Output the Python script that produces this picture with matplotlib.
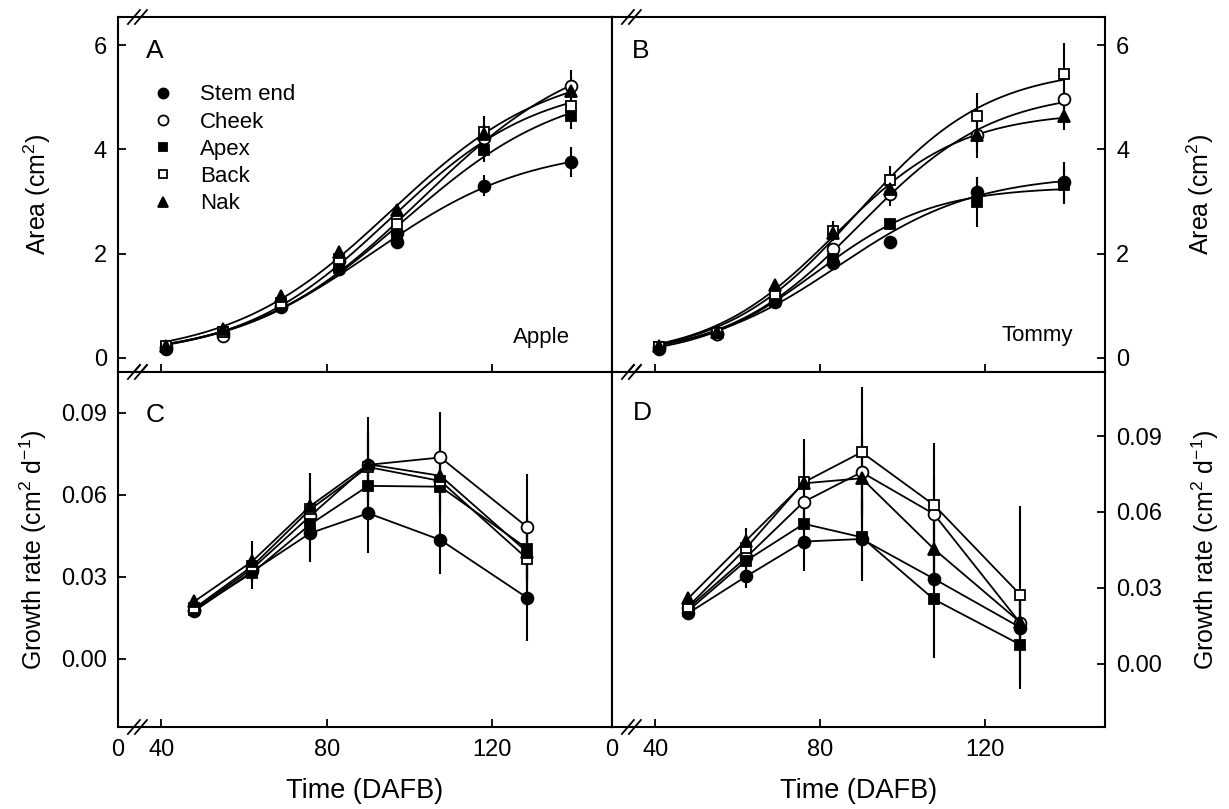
import numpy as np
import matplotlib
matplotlib.use("Agg")
import matplotlib.pyplot as plt
from matplotlib.lines import Line2D

plt.rcParams['font.family'] = ['Liberation Sans', 'DejaVu Sans']
plt.rcParams['mathtext.fontset'] = 'custom'
plt.rcParams['mathtext.rm'] = 'Liberation Sans'
plt.rcParams['mathtext.it'] = 'Liberation Sans:italic'
plt.rcParams['mathtext.default'] = 'regular'

# sampling days (days after full bloom)
days_area = np.array([41, 55, 69, 83, 97, 118, 139])
days_rate = np.array([48, 62, 76, 90, 107.5, 128.5])

regions = ["Stem end", "Cheek", "Apex", "Back", "Nak"]

# fruit area (cm2), Apple
apple_area = {
    "Stem end": [0.18, 0.48, 0.98, 1.70, 2.22, 3.30, 3.76],
    "Cheek":    [0.20, 0.42, 1.00, 1.85, 2.40, 4.22, 5.21],
    "Apex":     [0.20, 0.50, 1.00, 1.72, 2.35, 3.98, 4.65],
    "Back":     [0.22, 0.50, 1.05, 1.90, 2.57, 4.33, 4.83],
    "Nak":      [0.22, 0.55, 1.19, 2.03, 2.83, 4.30, 5.12],
}
apple_area_se = {
    "Stem end": [0.02, 0.03, 0.04, 0.06, 0.13, 0.20, 0.28],
    "Cheek":    [0.02, 0.03, 0.04, 0.06, 0.10, 0.20, 0.32],
    "Apex":     [0.02, 0.03, 0.04, 0.06, 0.10, 0.22, 0.25],
    "Back":     [0.02, 0.03, 0.04, 0.06, 0.10, 0.32, 0.20],
    "Nak":      [0.02, 0.03, 0.04, 0.10, 0.10, 0.20, 0.20],
}

# fruit area (cm2), Tommy
tommy_area = {
    "Stem end": [0.18, 0.45, 1.08, 1.83, 2.22, 3.18, 3.38],
    "Cheek":    [0.20, 0.45, 1.15, 2.09, 3.15, 4.27, 4.97],
    "Apex":     [0.20, 0.47, 1.10, 1.90, 2.57, 2.99, 3.31],
    "Back":     [0.20, 0.48, 1.22, 2.44, 3.42, 4.65, 5.44],
    "Nak":      [0.22, 0.50, 1.40, 2.40, 3.25, 4.27, 4.65],
}
tommy_area_se = {
    "Stem end": [0.02, 0.03, 0.04, 0.06, 0.08, 0.29, 0.38],
    "Cheek":    [0.02, 0.03, 0.04, 0.06, 0.23, 0.43, 0.20],
    "Apex":     [0.02, 0.03, 0.04, 0.06, 0.12, 0.48, 0.35],
    "Back":     [0.02, 0.03, 0.04, 0.19, 0.27, 0.43, 0.60],
    "Nak":      [0.02, 0.03, 0.05, 0.10, 0.15, 0.20, 0.28],
}

# growth rate (cm2 d-1), Apple
apple_rate = {
    "Stem end": [0.0175, 0.0320, 0.0460, 0.0533, 0.0435, 0.0223],
    "Cheek":    [0.0180, 0.0330, 0.0523, 0.0710, 0.0737, 0.0482],
    "Apex":     [0.0180, 0.0315, 0.0492, 0.0633, 0.0630, 0.0403],
    "Back":     [0.0185, 0.0339, 0.0547, 0.0702, 0.0651, 0.0366],
    "Nak":      [0.0210, 0.0357, 0.0559, 0.0712, 0.0670, 0.0390],
}
apple_rate_se = {
    "Stem end": [0.001, 0.004, 0.0106, 0.0145, 0.0123, 0.0159],
    "Cheek":    [0.001, 0.004, 0.008, 0.012, 0.0168, 0.0194],
    "Apex":     [0.001, 0.006, 0.008, 0.010, 0.012, 0.012],
    "Back":     [0.001, 0.004, 0.008, 0.012, 0.012, 0.012],
    "Nak":      [0.001, 0.0073, 0.012, 0.0174, 0.012, 0.012],
}

# growth rate (cm2 d-1), Tommy
tommy_rate = {
    "Stem end": [0.0200, 0.0345, 0.0483, 0.0493, 0.0336, 0.0143],
    "Cheek":    [0.0220, 0.0420, 0.0640, 0.0757, 0.0592, 0.0160],
    "Apex":     [0.0210, 0.0407, 0.0553, 0.0500, 0.0255, 0.0075],
    "Back":     [0.0226, 0.0457, 0.0717, 0.0836, 0.0628, 0.0272],
    "Nak":      [0.0259, 0.0487, 0.0713, 0.0733, 0.0454, 0.0163],
}
tommy_rate_se = {
    "Stem end": [0.001, 0.0046, 0.0116, 0.0167, 0.012, 0.010],
    "Cheek":    [0.001, 0.004, 0.010, 0.015, 0.015, 0.010],
    "Apex":     [0.001, 0.004, 0.010, 0.015, 0.0233, 0.0175],
    "Back":     [0.001, 0.004, 0.0170, 0.0259, 0.0243, 0.0350],
    "Nak":      [0.001, 0.0050, 0.010, 0.015, 0.015, 0.010],
}

styles = {
    "Stem end": dict(marker='o', mfc='black', ms=8.5),
    "Cheek":    dict(marker='o', mfc='white', ms=8.5),
    "Apex":     dict(marker='s', mfc='black', ms=7.5),
    "Back":     dict(marker='s', mfc='white', ms=7.5),
    "Nak":      dict(marker='^', mfc='black', ms=8.5),
}

XMIN, XMAX = 29.5, 149.0


def logistic_fit(x, y):
    # 3-parameter sigmoid a/(1+exp(-(x-x0)/b)), least squares over a grid
    x = np.asarray(x, float)
    y = np.asarray(y, float)
    x0s = np.arange(50, 170, 0.25)
    bs = np.arange(5, 60, 0.2)
    X0, B = np.meshgrid(x0s, bs, indexing='ij')
    g = 1.0 / (1.0 + np.exp(-(x[None, None, :] - X0[..., None]) / B[..., None]))
    a = (g * y).sum(-1) / (g * g).sum(-1)
    sse = ((a[..., None] * g - y) ** 2).sum(-1)
    i = np.unravel_index(np.argmin(sse), sse.shape)
    return a[i], X0[i], B[i]


def axis_break(ax, xdata, width_px):
    # "//" marks on the top and bottom spines
    fx = (xdata - XMIN) / (XMAX - XMIN)
    w_px, h_px = width_px, ax.bbox.height
    for yy in (0.0, 1.0):
        for off in (-3.5, 3.5):
            x0 = fx + (off - 6) / w_px
            x1 = fx + (off + 6) / w_px
            ax.plot([x0, x1], [yy - 7 / h_px, yy + 7 / h_px], color='black',
                    lw=1.3, transform=ax.transAxes, clip_on=False, zorder=10)


def style_axes(ax, right=False, bottom_labels=False):
    for s in ax.spines.values():
        s.set_linewidth(1.5)
    ax.set_xlim(XMIN, XMAX)
    ax.set_xticks([XMIN, 40, 80, 120])
    if bottom_labels:
        ax.set_xticklabels(['0', '40', '80', '120'])
    else:
        ax.set_xticklabels([])
    ax.tick_params(axis='x', direction='in', length=6, width=1.3, top=False,
                   bottom=True, labelsize=17, pad=9)
    ax.tick_params(axis='y', direction='in', length=6, width=1.3, labelsize=17, pad=8)
    if right:
        ax.yaxis.tick_right()
        ax.yaxis.set_label_position('right')
        ax.tick_params(axis='y', left=False, right=True, direction='in')


fig = plt.figure(figsize=(12.29, 8.09), dpi=100)
W, H = 1229, 809
axA = fig.add_axes([118 / W, 1 - 372 / H, 494 / W, 355 / H])
axB = fig.add_axes([612 / W, 1 - 372 / H, 493 / W, 355 / H])
axC = fig.add_axes([118 / W, 1 - 727 / H, 494 / W, 355 / H])
axD = fig.add_axes([612 / W, 1 - 727 / H, 493 / W, 355 / H])

xfit = np.linspace(days_area[0], days_area[-1], 200)

for ax, area, se in ((axA, apple_area, apple_area_se), (axB, tommy_area, tommy_area_se)):
    for r in regions:
        a, x0, b = logistic_fit(days_area, area[r])
        ax.plot(xfit, a / (1 + np.exp(-(xfit - x0) / b)), color='black', lw=1.3, zorder=2)
    for r in regions:
        ax.errorbar(days_area, area[r], yerr=se[r], fmt='none', ecolor='black',
                    elinewidth=1.5, capsize=0, zorder=3)
    for r in regions:
        st = styles[r]
        ax.plot(days_area, area[r], ls='none', marker=st['marker'], mfc=st['mfc'],
                mec='black', mew=1.3, ms=st['ms'], zorder=4)
    ax.set_ylim(-0.27, 6.54)
    ax.set_yticks([0, 2, 4, 6])

for ax, rate, se in ((axC, apple_rate, apple_rate_se), (axD, tommy_rate, tommy_rate_se)):
    for r in regions:
        ax.errorbar(days_rate, rate[r], yerr=se[r], fmt='none', ecolor='black',
                    elinewidth=1.5, capsize=0, zorder=3)
    for r in regions:
        st = styles[r]
        ax.plot(days_rate, rate[r], color='black', lw=1.3, marker=st['marker'],
                mfc=st['mfc'], mec='black', mew=1.3, ms=st['ms'], zorder=4)
    ax.set_yticks([0, 0.03, 0.06, 0.09])
    ax.set_yticklabels(['0.00', '0.03', '0.06', '0.09'])

axC.set_ylim(-0.025, 0.105)
axD.set_ylim(-0.025, 0.1153)

style_axes(axA)
style_axes(axB, right=True)
style_axes(axC, bottom_labels=True)
style_axes(axD, right=True, bottom_labels=True)

for ax in (axA, axB, axC, axD):
    axis_break(ax, 34.2, ax.bbox.width)

axA.set_ylabel('Area (cm$^2$)', fontsize=18)
axB.set_ylabel('Area (cm$^2$)', fontsize=18, rotation=90)
axC.set_ylabel('Growth rate (cm$^2$ d$^{-1}$)', fontsize=18)
axD.set_ylabel('Growth rate (cm$^2$ d$^{-1}$)', fontsize=18, rotation=90)
axA.yaxis.set_label_coords(-0.132, 0.5)
axC.yaxis.set_label_coords(-0.14, 0.5)
axB.yaxis.set_label_coords(1.162, 0.5)
axD.yaxis.set_label_coords(1.172, 0.5)
axC.set_xlabel('Time (DAFB)', fontsize=19.5, labelpad=12)
axD.set_xlabel('Time (DAFB)', fontsize=19.5, labelpad=12)

for ax, letter, x, y in ((axA, 'A', 0.057, 0.885), (axB, 'B', 0.041, 0.885),
                         (axC, 'C', 0.055, 0.859), (axD, 'D', 0.043, 0.865)):
    ax.text(x, y, letter, transform=ax.transAxes, fontsize=19, va='baseline')

axA.text(0.915, 0.082, 'Apple', transform=axA.transAxes, fontsize=16, ha='right', va='baseline')
axB.text(0.935, 0.087, 'Tommy', transform=axB.transAxes, fontsize=16, ha='right', va='baseline')

handles = [Line2D([], [], ls='none', marker=styles[r]['marker'], mfc=styles[r]['mfc'],
                  mec='black', mew=1.3, ms=styles[r]['ms'] * 0.85) for r in regions]
axA.legend(handles, regions, loc='upper left', bbox_to_anchor=(0.058, 0.81),
           frameon=False, fontsize=16, handlelength=1.47, handletextpad=0.93,
           labelspacing=0.28, borderpad=0, borderaxespad=0)

fig.savefig('out.png', dpi=100, facecolor='white')
